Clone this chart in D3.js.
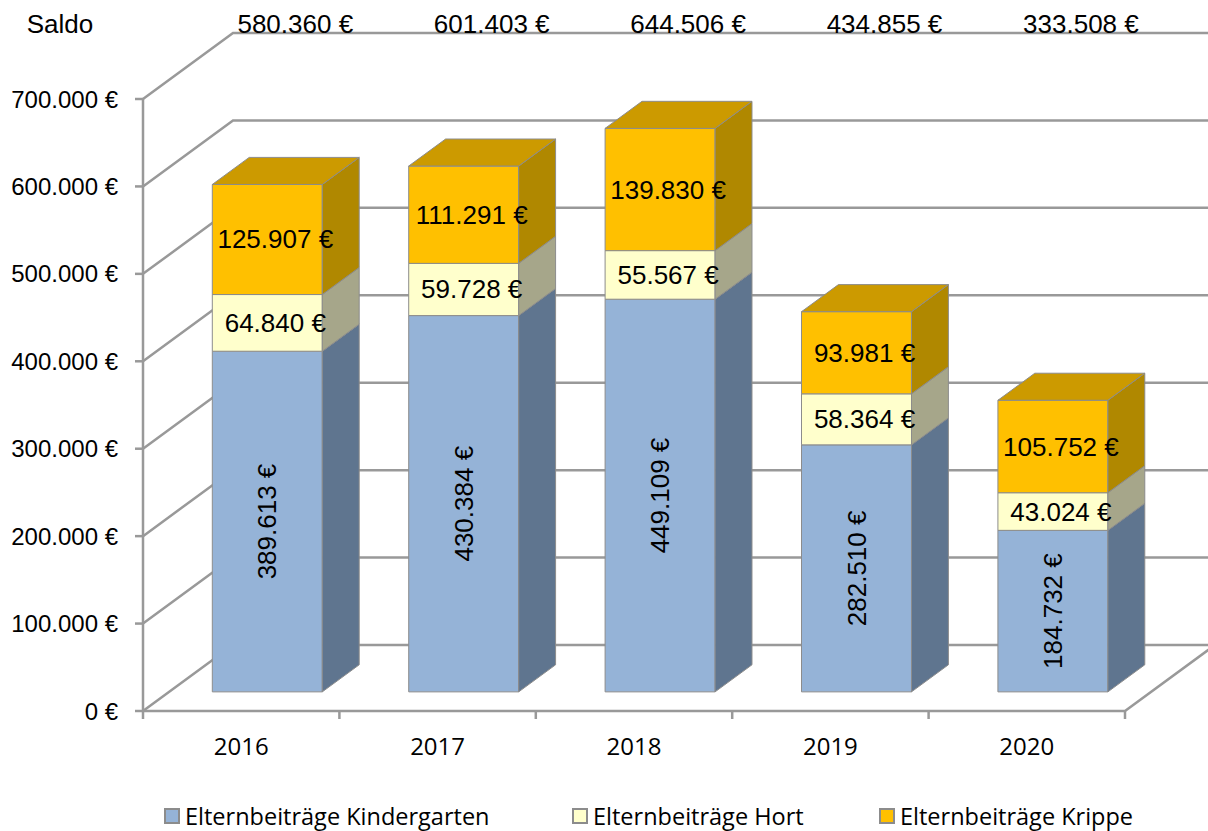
<!DOCTYPE html>
<html>
<head>
<meta charset="utf-8">
<script src="https://cdn.jsdelivr.net/npm/d3@7"></script>
<style>
  body { margin: 0; background: #fff; }
  svg { display: block; }
</style>
</head>
<body>
<div id="chart"></div>
<script>
/* data */
const years = ["2016", "2017", "2018", "2019", "2020"];
const kindergarten = [389613, 430384, 449109, 282510, 184732];
const hort = [64840, 59728, 55567, 58364, 43024];
const krippe = [125907, 111291, 139830, 93981, 105752];
const saldo = [580360, 601403, 644506, 434855, 333508];
const yTicks = [0, 100000, 200000, 300000, 400000, 500000, 600000, 700000];
const seriesNames = ["Elternbeiträge Kindergarten", "Elternbeiträge Hort", "Elternbeiträge Krippe"];

const colors = [
  { front: "#95b3d7", side: "#5f758f", top: "#7f9cc0" },
  { front: "#ffffcc", side: "#a6a68a", top: "#d9d9ad" },
  { front: "#ffc000", side: "#b08800", top: "#cc9a00" }
];

let
  width = 1208,
  height = 831,
  left = 143,
  right = 1125,
  bottom = 711,
  depth = { dx: 90, dy: -66 },   /* full depth of the 3d box */
  barFront = 0.29, barBack = 0.70; /* bar position inside the depth */

const de = d3.formatLocale({ decimal: ",", thousands: ".", grouping: [3], currency: ["", ""] });
const fmt = v => de.format(",.0f")(v) + " €";

const x = d3.scaleBand().domain(years).range([left, right])
  .paddingInner(0.44).paddingOuter(0.22);
const y = d3.scaleLinear().domain([0, 700000]).range([bottom, 99]);

const svg = d3.select("#chart").append("svg")
  .attr("width", width).attr("height", height);

const grid = "#999999";

/* back wall grid lines */
svg.append("g").selectAll("path")
  .data(yTicks)
  .enter().append("path")
  .attr("d", d => {
    let yy = y(d);
    return "M" + left + "," + yy + "L" + (left + depth.dx) + "," + (yy + depth.dy) +
      "L" + (width + 10) + "," + (yy + depth.dy);
  })
  .attr("fill", "none")
  .attr("stroke", grid)
  .attr("stroke-width", 2.5);

/* floor front edge + right side */
svg.append("path")
  .attr("d", "M" + left + "," + y(0) + "L" + right + "," + y(0) +
    "L" + (right + depth.dx) + "," + (y(0) + depth.dy))
  .attr("fill", "none").attr("stroke", grid).attr("stroke-width", 2.5);

/* y axis line + ticks */
svg.append("line")
  .attr("x1", left).attr("x2", left).attr("y1", y(0)).attr("y2", y(700000))
  .attr("stroke", grid).attr("stroke-width", 2.5);

svg.append("g").selectAll("line")
  .data(yTicks)
  .enter().append("line")
  .attr("x1", left - 8).attr("x2", left)
  .attr("y1", d => y(d)).attr("y2", d => y(d))
  .attr("stroke", grid).attr("stroke-width", 2.5);

svg.append("g").selectAll("text")
  .data(yTicks)
  .enter().append("text")
  .attr("x", 118)
  .attr("y", d => y(d) + 8.5)
  .attr("text-anchor", "end")
  .style("font-family", "'Liberation Sans', Arial, sans-serif")
  .style("font-size", "24px")
  .attr("fill", "#000")
  .text(d => fmt(d));

/* category ticks */
let step = x.step();
let catTicks = d3.range(years.length + 1).map(i => left + i * step);
svg.append("g").selectAll("line")
  .data(catTicks)
  .enter().append("line")
  .attr("x1", d => d).attr("x2", d => d)
  .attr("y1", y(0)).attr("y2", y(0) + 8)
  .attr("stroke", grid).attr("stroke-width", 2.5);

svg.append("g").selectAll("text")
  .data(years)
  .enter().append("text")
  .attr("x", d => x(d) + x.bandwidth() / 2)
  .attr("y", 755)
  .attr("text-anchor", "middle")
  .style("font-family", "'Open Sans', sans-serif")
  .style("font-size", "24px")
  .attr("fill", "#000")
  .text(d => d);

/* stacked 3d bars */
const stackData = years.map((yr, i) => ({ year: yr, k: kindergarten[i], h: hort[i], c: krippe[i] }));
const series = d3.stack().keys(["k", "h", "c"])(stackData);

function p(px, py, f) {
  return [px + f * depth.dx, py + f * depth.dy];
}
function poly(pts) {
  return "M" + pts.map(q => q.join(",")).join("L") + "Z";
}

const bw = x.bandwidth();
const bars = svg.append("g");

years.forEach((yr, i) => {
  let x0 = x(yr), x1 = x0 + bw;
  series.forEach((s, si) => {
    let v0 = s[i][0], v1 = s[i][1];
    let y0 = y(v0), y1 = y(v1);
    let col = colors[si];
    let g = bars.append("g").attr("class", "seg");
    // front
    g.append("path")
      .attr("d", poly([p(x0, y0, barFront), p(x1, y0, barFront), p(x1, y1, barFront), p(x0, y1, barFront)]))
      .attr("fill", col.front).attr("stroke", "#8c8c8c").attr("stroke-width", 1);
    // side
    g.append("path")
      .attr("d", poly([p(x1, y0, barFront), p(x1, y0, barBack), p(x1, y1, barBack), p(x1, y1, barFront)]))
      .attr("fill", col.side).attr("stroke", "#8c8c8c").attr("stroke-width", 1);
    if (si === series.length - 1) {
      // top
      g.append("path")
        .attr("d", poly([p(x0, y1, barFront), p(x1, y1, barFront), p(x1, y1, barBack), p(x0, y1, barBack)]))
        .attr("fill", col.top).attr("stroke", "#8c8c8c").attr("stroke-width", 1);
    }
  });
});

/* value labels */
const labels = svg.append("g")
  .style("font-family", "'Liberation Sans', Arial, sans-serif")
  .style("font-size", "26px")
  .attr("fill", "#000");

years.forEach((yr, i) => {
  let cx = x(yr) + bw / 2 + barFront * depth.dx;
  series.forEach((s, si) => {
    let v0 = s[i][0], v1 = s[i][1];
    let cy = (y(v0) + y(v1)) / 2 + barFront * depth.dy;
    if (si === 0) {
      labels.append("text")
        .attr("transform", "translate(" + (cx + 9) + "," + cy + ") rotate(-90)")
        .attr("text-anchor", "middle")
        .text(fmt(v1 - v0));
    } else {
      labels.append("text")
        .attr("x", cx + 8)
        .attr("y", cy + 9)
        .attr("text-anchor", "middle")
        .text(fmt(v1 - v0));
    }
  });
});

/* saldo row */
const saldoRow = svg.append("g")
  .style("font-family", "'Liberation Sans', Arial, sans-serif")
  .style("font-size", "26px")
  .attr("fill", "#000");

saldoRow.append("text").attr("x", 60).attr("y", 33).attr("text-anchor", "middle").text("Saldo");
saldoRow.selectAll("text.saldo")
  .data(saldo)
  .enter().append("text")
  .attr("class", "saldo")
  .attr("x", (d, i) => x(years[i]) + bw / 2 + barFront * depth.dx + 28)
  .attr("y", 33)
  .attr("text-anchor", "middle")
  .text(d => fmt(d));

/* legend */
const legendX = [165, 573, 880];
const legendG = svg.selectAll(".legend")
  .data(seriesNames)
  .enter().append("g")
  .attr("class", "legend")
  .attr("transform", (d, i) => "translate(" + legendX[i] + ",809)");

legendG.append("rect")
  .attr("width", 14).attr("height", 14)
  .attr("fill", (d, i) => colors[i].front)
  .attr("stroke", "#8c8c8c").attr("stroke-width", 2);

legendG.append("text")
  .attr("x", 20).attr("y", 16)
  .style("font-family", "'Open Sans', sans-serif")
  .style("font-size", "23.5px")
  .attr("fill", "#000")
  .text(d => d);
</script>
</body>
</html>
